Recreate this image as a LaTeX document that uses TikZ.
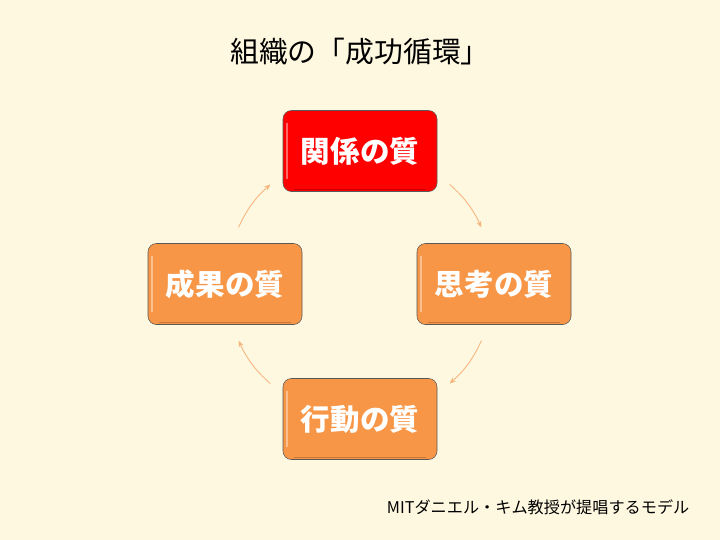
\documentclass[tikz,border=0pt]{standalone}
\usepackage{fontspec}
\setmainfont{Noto Sans CJK JP}
\usepackage{xcolor}
\usepackage{tikz}
\usetikzlibrary{positioning,arrows.meta,calc}
\definecolor{bgcream}{RGB}{254, 248, 224}
\definecolor{boxorange}{RGB}{247, 150, 70}
\definecolor{boxred}{RGB}{255, 0, 0}
\definecolor{arcorange}{RGB}{247, 180, 125}

\begin{document}
\begin{tikzpicture}[
    qualbox/.style={rectangle, rounded corners=6pt, draw=black!65, thin, fill=boxorange, minimum width=3.85cm, minimum height=2.025cm, inner sep=2pt, text=white, font=\fontsize{21}{25}\selectfont\bfseries,
        path picture={\draw[white, opacity=0.4, line width=1.4pt, rounded corners=4pt] ([xshift=3pt,yshift=-9pt]path picture bounding box.north west) -- ([xshift=3pt,yshift=9pt]path picture bounding box.south west);
                      \draw[black, opacity=0.2, line width=1.2pt] ([xshift=8pt,yshift=1.5pt]path picture bounding box.south west) -- ([xshift=-8pt,yshift=1.5pt]path picture bounding box.south east);}},
    keybox/.style={qualbox, fill=boxred},
    cycle/.style={draw=arcorange, line width=0.6pt, -{Stealth[length=4.5pt,width=3.5pt]}}
]

% Background and frame
\fill[bgcream] (0,0) rectangle (18,-13.5);
\useasboundingbox (0,0) rectangle (18,-13.5);

% Title
\node[font=\fontsize{20.5}{24}\selectfont] (title) at (9,-1.3) {組織の「成功循環」};

% Four qualities
\node[keybox]  (relation) at (9,-3.775)    {関係の質};
\node[qualbox] (thinking) at (12.35,-7.1)  {思考の質};
\node[qualbox] (action)   at (9,-10.475)   {行動の質};
\node[qualbox] (result)   at (5.625,-7.1)  {成果の質};

% Arc end points on the cycle circle
\coordinate (hub) at (9,-7.1);
\coordinate (a1) at ($(hub)+(48:3.35)$);
\coordinate (a2) at ($(hub)+(25:3.35)$);
\coordinate (b1) at ($(hub)+(-25:3.35)$);
\coordinate (b2) at ($(hub)+(-48:3.35)$);
\coordinate (c1) at ($(hub)+(228:3.35)$);
\coordinate (c2) at ($(hub)+(205:3.35)$);
\coordinate (d1) at ($(hub)+(155:3.35)$);
\coordinate (d2) at ($(hub)+(132:3.35)$);

% Cycle arrows
\draw[cycle] (a1) to[bend left=11.5] (a2);
\draw[cycle] (b1) to[bend left=11.5] (b2);
\draw[cycle] (c1) to[bend left=11.5] (c2);
\draw[cycle] (d1) to[bend left=11.5] (d2);

% Source note
\node[anchor=west, font=\fontsize{11.5}{14}\selectfont] (note) at (9.55,-12.675) {MITダニエル・キム教授が提唱するモデル};

\end{tikzpicture}
\end{document}
